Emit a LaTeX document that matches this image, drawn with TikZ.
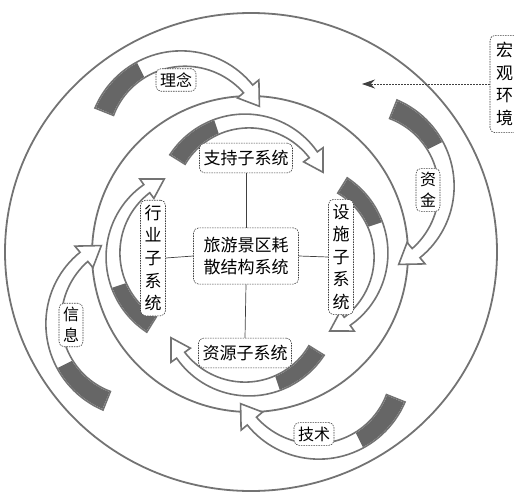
\documentclass[tikz,border=0pt]{standalone}
\usepackage{fontspec}
\newfontfamily\cjk{Noto Sans CJK SC}
\usetikzlibrary{arrows.meta}

\tikzset{
  ring/.style={draw=black!55, line width=1.8pt},
  band/.style={draw=black!55, line width=1.6pt, fill=white},
  bandtail/.style={fill=black!60},
  sysbox/.style={draw=black!75, line width=0.6pt, dash pattern=on 1.5pt off 1pt,
    rounded corners=5pt, fill=white, align=center,
    font=\cjk\fontsize{17}{22.5}\selectfont, inner xsep=4pt, inner ysep=5pt},
  tagbox/.style={sysbox, font=\cjk\fontsize{16}{21}\selectfont, inner xsep=4pt, inner ysep=4pt},
  link/.style={draw=black!75, line width=0.7pt},
  envline/.style={draw=black!75, line width=0.7pt, dash pattern=on 2pt off 1pt,
    -{Stealth[length=13pt,width=9pt]}},
}

% curved block arrow: centre x, centre y, radius, tail angle, tip angle,
% tail width, body width, head width, head length (deg)
\newcommand{\ringarrow}[9]{%
  \pgfmathsetmacro{\rcx}{#1}\pgfmathsetmacro{\rcy}{#2}\pgfmathsetmacro{\rr}{#3}%
  \pgfmathsetmacro{\ra}{#4}\pgfmathsetmacro{\rb}{#5}%
  \pgfmathsetmacro{\rwt}{#6}\pgfmathsetmacro{\rwb}{#7}\pgfmathsetmacro{\rwh}{#8}%
  \pgfmathsetmacro{\rh}{\rb-#9}%
  \pgfmathsetmacro{\rd}{\ra+0.32*(\rh-\ra)}%
  \pgfmathsetmacro{\rwd}{\rwt+0.32*(\rwb-\rwt)}%
  \filldraw[band]
    plot[domain=0:1, samples=40, variable=\s] ({\rcx+(\rr+(\rwt+(\rwb-\rwt)*\s)/2)*cos(\ra+(\rh-\ra)*\s)}, {\rcy+(\rr+(\rwt+(\rwb-\rwt)*\s)/2)*sin(\ra+(\rh-\ra)*\s)})
    -- ({\rcx+(\rr+\rwh/2)*cos(\rh)}, {\rcy+(\rr+\rwh/2)*sin(\rh)})
    -- ({\rcx+\rr*cos(\rb)}, {\rcy+\rr*sin(\rb)})
    -- ({\rcx+(\rr-\rwh/2)*cos(\rh)}, {\rcy+(\rr-\rwh/2)*sin(\rh)})
    -- plot[domain=0:1, samples=40, variable=\s] ({\rcx+(\rr-(\rwb-(\rwb-\rwt)*\s)/2)*cos(\rh-(\rh-\ra)*\s)}, {\rcy+(\rr-(\rwb-(\rwb-\rwt)*\s)/2)*sin(\rh-(\rh-\ra)*\s)})
    -- cycle;
  % dark tail
  \fill[bandtail]
    plot[domain=0:1, samples=15, variable=\s] ({\rcx+(\rr+(\rwt+(\rwd-\rwt)*\s)/2-0.9)*cos(\ra+0.6+(\rd-\ra)*\s)}, {\rcy+(\rr+(\rwt+(\rwd-\rwt)*\s)/2-0.9)*sin(\ra+0.6+(\rd-\ra)*\s)})
    -- plot[domain=0:1, samples=15, variable=\s] ({\rcx+(\rr-(\rwd-(\rwd-\rwt)*\s)/2+0.9)*cos(\rd-(\rd-\ra-0.6)*\s)}, {\rcy+(\rr-(\rwd-(\rwd-\rwt)*\s)/2+0.9)*sin(\rd-(\rd-\ra-0.6)*\s)})
    -- cycle;
}

\begin{document}
\begin{tikzpicture}[x=1pt, y=-1pt]
    \useasboundingbox (0,0) rectangle (514,493);
    % rings
    \draw[ring] (251,252) ellipse [x radius=246, y radius=239];
    \draw[ring] (250,254) circle [radius=158];
    % outer arrows
    \foreach \a in {239,329,59,149}
        \ringarrow{250+130*cos(\a)}{255+130*sin(\a)}{85}{\a-37}{\a+95}{20}{12}{28}{14};
    % inner arrows
    \foreach \a in {270,0,90,180}
        \ringarrow{247+52*cos(\a)}{255+52*sin(\a)}{82}{\a-58}{\a+68}{18}{10}{24}{14};
    % subsystems
    \node[sysbox, inner xsep=10pt, inner ysep=9pt] (core) at (246,256) {旅游景区耗\\散结构系统};
    \node[sysbox, inner ysep=7pt] (supp) at (246,158) {支持子系统};
    \node[sysbox, inner ysep=7pt] (res) at (245,353) {资源子系统};
    \node[sysbox] (ind) at (153,258) {行\\业\\子\\系\\统};
    \node[sysbox] (fac) at (341,257) {设\\施\\子\\系\\统};
    \draw[link] (core.north) -- (supp.south);
    \draw[link] (core.south) -- (res.north);
    \draw[link] (core.west) -- (ind.east);
    \draw[link] (core.east) -- (fac.west);
    % flows
    \node[tagbox] (idea) at (176,80) {理念};
    \node[tagbox] (fund) at (428,190) {资\\金};
    \node[tagbox] (info) at (71,325) {信\\息};
    \node[tagbox] (tech) at (314,434) {技术};
    % environment
    \node[sysbox, inner xsep=6pt, inner ysep=7pt] (env) at (504.5,84) {宏\\观\\环\\境};
    \coordinate (envtip) at (362,84);
    \draw[envline] (env.west) -- (envtip);
\end{tikzpicture}
\end{document}
